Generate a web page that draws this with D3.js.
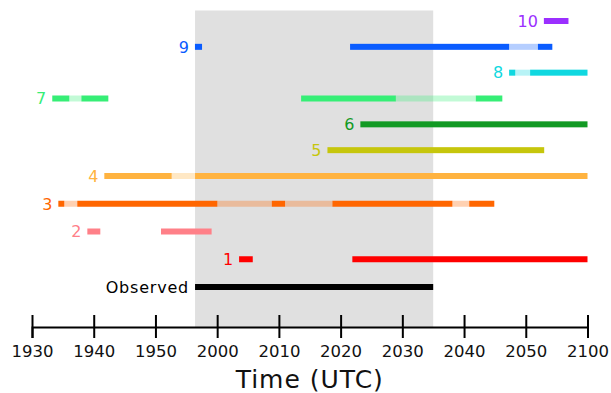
<!DOCTYPE html>
<html>
<head>
<meta charset="utf-8">
<script src="https://cdn.jsdelivr.net/npm/d3@7"></script>
<style>
  body { margin: 0; background: #fff; }
  svg { display: block; font-family: "DejaVu Sans", Verdana, sans-serif; }
</style>
</head>
<body>
<svg id="svg"></svg>
<script>
// rows, top to bottom
const rowNames = ['10', '9', '8', '7', '6', '5', '4', '3', '2', '1', 'Observed'];
const rowColors = ['#9b2fff', '#0a5cff', '#10d8e0', '#36ee76', '#129a24', '#c6c60c',
                   '#ffb340', '#ff6600', '#ff8088', '#ff0000', '#000000'];

// segments per row: [start, end, faded]  (UTC clock time)
const seg10 = [['20:52:56', '20:56:55', 0]];
const seg9 = [['19:56:24', '19:57:33', 0], ['20:21:32', '20:47:18', 0], ['20:47:18', '20:51:58', 1], ['20:51:58', '20:54:18', 0]];
const seg8 = [['20:47:18', '20:48:18', 0], ['20:48:18', '20:50:42', 1], ['20:50:42', '21:00:00', 0]];
const seg7 = [['19:33:17', '19:36:03', 0], ['19:36:03', '19:38:00', 1], ['19:38:00', '19:42:22', 0],
              ['20:13:36', '20:28:57', 0], ['20:28:57', '20:41:54', 1], ['20:41:54', '20:46:12', 0]];
const seg6 = [['20:23:12', '21:00:00', 0]];
const seg5 = [['20:17:52', '20:52:59', 0]];
const seg4 = [['19:41:43', '19:52:38', 0], ['19:52:38', '19:56:25', 1], ['19:56:25', '21:00:00', 0]];
const seg3 = [['19:34:16', '19:35:14', 0], ['19:35:14', '19:37:20', 1], ['19:37:20', '20:00:02', 0],
              ['20:00:02', '20:08:51', 1], ['20:08:51', '20:11:00', 0], ['20:11:00', '20:18:40', 1],
              ['20:18:40', '20:38:07', 0], ['20:38:07', '20:40:50', 1], ['20:40:50', '20:44:54', 0]];
const seg2 = [['19:38:58', '19:41:04', 0], ['19:50:54', '19:59:06', 0]];
const seg1 = [['20:03:33', '20:05:46', 0], ['20:21:54', '21:00:00', 0]];
const segObs = [['19:56:25', '20:35:00', 0]];
const rowSegments = [seg10, seg9, seg8, seg7, seg6, seg5, seg4, seg3, seg2, seg1, segObs];

// shaded window (observation period)
const shade = ['19:56:25', '20:35:00'];
const tickTimes = ['19:30', '19:40', '19:50', '20:00', '20:10', '20:20', '20:30', '20:40', '20:50', '21:00'];
const axisTitle = 'Time (UTC)';

let width = 611, height = 393;
let svg = d3.select('#svg').attr('width', width).attr('height', height);

const parse = d3.timeParse('%H:%M:%S');
const t = s => parse(s.length === 5 ? s + ':00' : s);

let axisY = 327;
let x = d3.scaleTime()
  .domain([t('19:30'), t('21:00')])
  .range([32, 587.5]);
// rows are a little further apart below row 4
let y = d3.scaleLinear()
  .domain([0, 6, rowNames.length - 1])
  .range([21, 176, 287]);

// grey background band
svg.append('rect')
  .attr('x', x(t(shade[0])))
  .attr('y', 10.5)
  .attr('width', x(t(shade[1])) - x(t(shade[0])))
  .attr('height', axisY - 10.5)
  .attr('fill', '#e0e0e0');

// bars
let barH = 6;
rowNames.forEach((name, i) => {
  let g = svg.append('g');
  let segs = rowSegments[i];
  let cy = y(i);
  g.selectAll('rect')
    .data(segs)
    .enter()
    .append('rect')
    .attr('x', d => x(t(d[0])))
    .attr('y', cy - barH / 2)
    .attr('width', d => x(t(d[1])) - x(t(d[0])))
    .attr('height', barH)
    .attr('fill', rowColors[i])
    .attr('fill-opacity', d => d[2] ? 0.3 : 1);
  // label left of first segment
  g.append('text')
    .attr('x', x(t(segs[0][0])) - 6)
    .attr('y', cy)
    .attr('dy', '0.36em')
    .attr('text-anchor', 'end')
    .attr('font-size', 16)
    .attr('letter-spacing', name === 'Observed' ? 0.8 : 0)
    .attr('fill', name === 'Observed' ? '#000' : rowColors[i])
    .text(name);
});

// axis
let xAxis = d3.axisBottom(x)
  .tickValues(tickTimes.map(t))
  .tickFormat(d3.timeFormat('%H%M'))
  .tickSizeOuter(0)
  .tickSize(11);

let xGroup = svg.append('g')
  .attr('transform', `translate(0,${axisY})`)
  .call(xAxis);
xGroup.select('.domain').attr('stroke', '#000').attr('stroke-width', 2);
xGroup.selectAll('.tick line').attr('y1', -12).attr('y2', 11).attr('stroke', '#000').attr('stroke-width', 2);
xGroup.selectAll('.tick text')
  .attr('y', 30).attr('dy', 0)
  .attr('font-size', 16.5)
  .attr('font-family', '"DejaVu Sans", Verdana, sans-serif')
  .attr('fill', '#111');

svg.append('text')
  .attr('x', x(t('20:15')))
  .attr('y', 388)
  .attr('text-anchor', 'middle')
  .attr('font-size', 25)
  .attr('letter-spacing', 1)
  .attr('fill', '#111')
  .text(axisTitle);
</script>
</body>
</html>
